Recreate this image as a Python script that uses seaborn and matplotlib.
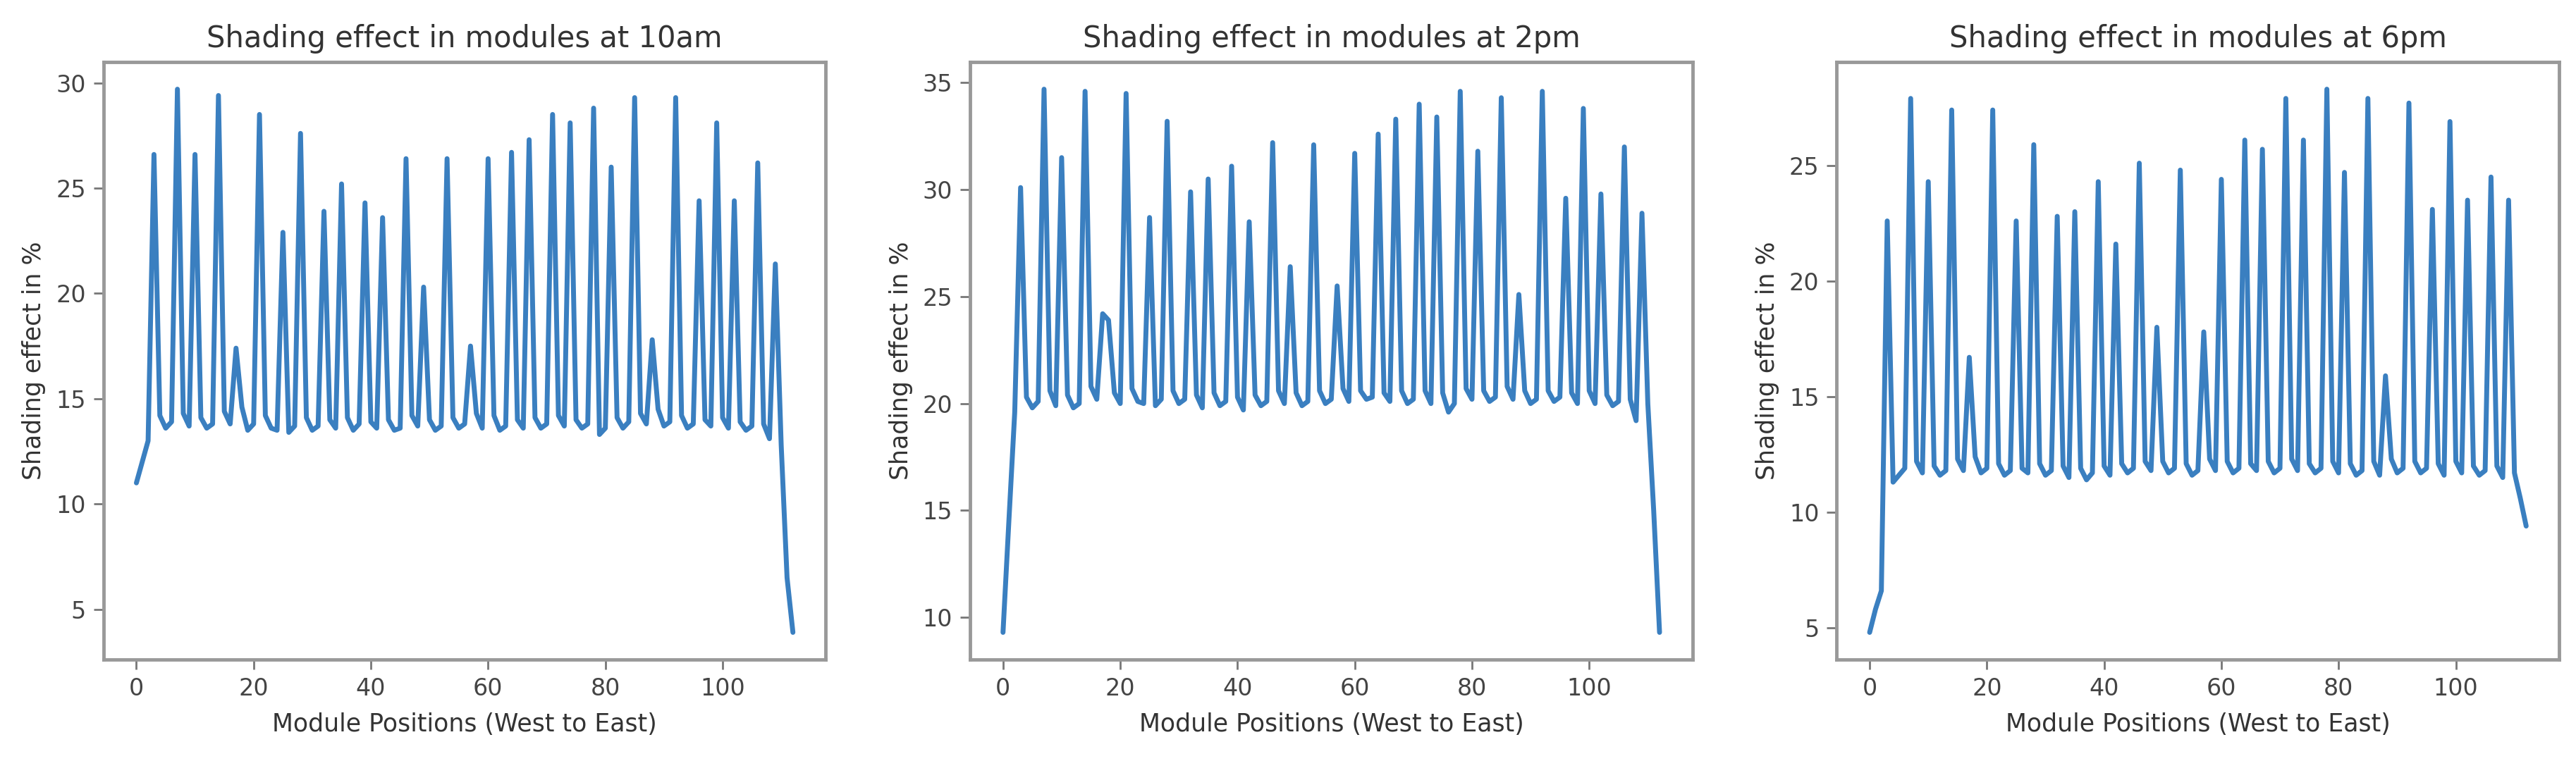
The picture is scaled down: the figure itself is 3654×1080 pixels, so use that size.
import numpy as np
import pandas as pd
import matplotlib
matplotlib.use("Agg")
import matplotlib.pyplot as plt
import seaborn as sns

# module positions along the row, west to east
positions = np.arange(113)

# shading effect (%) per module
shading_10am = [
    11.0, 12.0, 13.0, 26.6, 14.2, 13.6, 13.9, 29.7, 14.3, 13.7,
    26.6, 14.1, 13.6, 13.8, 29.4, 14.4, 13.8, 17.4, 14.6, 13.5,
    13.8, 28.5, 14.2, 13.6, 13.5, 22.9, 13.4, 13.7, 27.6, 14.1,
    13.5, 13.7, 23.9, 14.0, 13.6, 25.2, 14.1, 13.5, 13.8, 24.3,
    13.9, 13.6, 23.6, 14.0, 13.5, 13.6, 26.4, 14.2, 13.7, 20.3,
    14.0, 13.5, 13.7, 26.4, 14.1, 13.6, 13.8, 17.5, 14.3, 13.6,
    26.4, 14.2, 13.5, 13.7, 26.7, 14.0, 13.6, 27.3, 14.1, 13.6,
    13.8, 28.5, 14.2, 13.7, 28.1, 14.0, 13.6, 13.8, 28.8, 13.3,
    13.6, 26.0, 14.1, 13.6, 13.9, 29.3, 14.3, 13.8, 17.8, 14.5,
    13.7, 13.9, 29.3, 14.2, 13.6, 13.8, 24.4, 14.0, 13.7, 28.1,
    14.1, 13.6, 24.4, 13.9, 13.5, 13.7, 26.2, 13.8, 13.1, 21.4,
    12.8, 6.5, 3.9,
]

shading_2pm = [
    9.3, 14.5, 19.6, 30.1, 20.3, 19.8, 20.1, 34.7, 20.6, 19.9,
    31.5, 20.4, 19.8, 20.0, 34.6, 20.8, 20.2, 24.2, 23.9, 20.5,
    20.0, 34.5, 20.7, 20.1, 20.0, 28.7, 19.9, 20.2, 33.2, 20.6,
    20.0, 20.2, 29.9, 20.4, 19.8, 30.5, 20.5, 19.9, 20.1, 31.1,
    20.3, 19.7, 28.5, 20.4, 19.9, 20.1, 32.2, 20.6, 20.0, 26.4,
    20.5, 19.9, 20.1, 32.1, 20.6, 20.0, 20.2, 25.5, 20.7, 20.1,
    31.7, 20.6, 20.2, 20.3, 32.6, 20.5, 20.1, 33.3, 20.6, 20.0,
    20.2, 34.0, 20.6, 20.0, 33.4, 20.5, 19.6, 20.0, 34.6, 20.7,
    20.2, 31.8, 20.6, 20.1, 20.3, 34.3, 20.8, 20.2, 25.1, 20.6,
    20.0, 20.2, 34.6, 20.6, 20.1, 20.3, 29.6, 20.5, 20.0, 33.8,
    20.6, 20.0, 29.8, 20.4, 19.9, 20.1, 32.0, 20.2, 19.2, 28.9,
    20.0, 15.0, 9.3,
]

shading_6pm = [
    4.8, 5.8, 6.6, 22.6, 11.3, 11.6, 11.9, 27.9, 12.2, 11.7,
    24.3, 12.0, 11.6, 11.8, 27.4, 12.3, 11.8, 16.7, 12.4, 11.7,
    11.9, 27.4, 12.1, 11.6, 11.8, 22.6, 11.9, 11.7, 25.9, 12.1,
    11.6, 11.8, 22.8, 12.0, 11.5, 23.0, 11.9, 11.4, 11.7, 24.3,
    12.0, 11.6, 21.6, 12.1, 11.7, 11.9, 25.1, 12.2, 11.8, 18.0,
    12.2, 11.7, 11.9, 24.8, 12.1, 11.6, 11.8, 17.8, 12.3, 11.8,
    24.4, 12.2, 11.7, 11.9, 26.1, 12.1, 11.8, 25.7, 12.2, 11.7,
    11.9, 27.9, 12.3, 11.8, 26.1, 12.1, 11.7, 11.9, 28.3, 12.2,
    11.7, 24.7, 12.1, 11.6, 11.8, 27.9, 12.2, 11.6, 15.9, 12.3,
    11.7, 11.9, 27.7, 12.2, 11.7, 11.9, 23.1, 12.1, 11.6, 26.9,
    12.2, 11.7, 23.5, 12.0, 11.6, 11.8, 24.5, 12.0, 11.5, 23.5,
    11.7, 10.6, 9.4,
]

titles = ["Shading effect in modules at 10am",
          "Shading effect in modules at 2pm",
          "Shading effect in modules at 6pm"]
series = [shading_10am, shading_2pm, shading_6pm]

sns.set_style("ticks")
plt.rcParams['font.family'] = ['DejaVu Sans']
plt.rcParams['text.color'] = '#333333'
plt.rcParams['axes.labelcolor'] = '#333333'
plt.rcParams['xtick.color'] = '#777777'
plt.rcParams['ytick.color'] = '#777777'
plt.rcParams['xtick.labelcolor'] = '#444444'
plt.rcParams['ytick.labelcolor'] = '#444444'

fig, axes = plt.subplots(1, 3, figsize=(36.54, 10.8), dpi=100)
fig.subplots_adjust(left=0.0402, right=0.9934, bottom=0.1333, top=0.9185, wspace=0.2)

for ax, vals, title in zip(axes, series, titles):
    df = pd.DataFrame({"pos": positions, "shade": vals})
    sns.lineplot(data=df, x="pos", y="shade", ax=ax, color="#3a7fc0", linewidth=5)
    ax.set_title(title, fontsize=30, pad=15)
    ax.set_xlabel("Module Positions (West to East)", fontsize=25, labelpad=12)
    ax.set_ylabel("Shading effect in %", fontsize=25, labelpad=10)
    ax.set_xticks([0, 20, 40, 60, 80, 100])
    ax.tick_params(labelsize=24, length=10, width=2, pad=8)
    for sp in ax.spines.values():
        sp.set_color('#999999')
        sp.set_linewidth(3.5)
        sp.set_visible(True)

fig.savefig("out.png", dpi=100, facecolor="white")
